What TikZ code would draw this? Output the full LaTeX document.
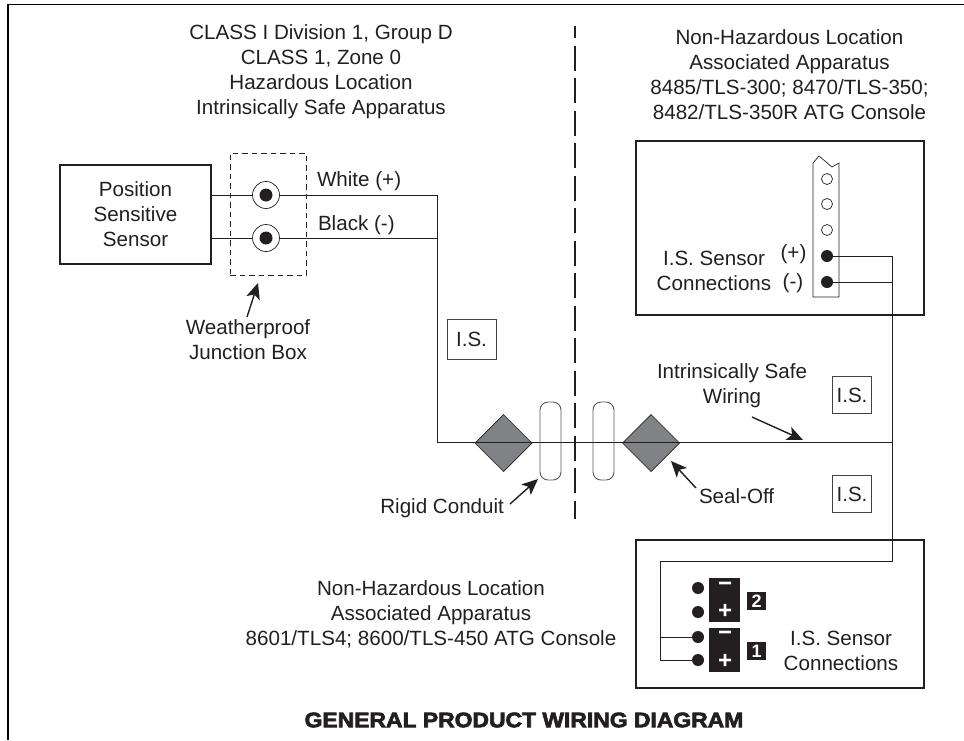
\documentclass[tikz,border=0pt]{standalone}
\usepackage{fontspec}
\setmainfont{Liberation Sans}
\newfontfamily\heavyfont[FakeBold=3.2,FakeStretch=1.09]{Liberation Sans Bold}
\usetikzlibrary{arrows.meta,shapes.geometric}
\definecolor{ink}{HTML}{231F20}
\definecolor{sealgray}{HTML}{808285}
\tikzset{
  x=1pt,y=-1pt,
  every node/.style={text=ink,font=\fontsize{20.6}{25}\selectfont,inner sep=0pt,outer sep=0pt},
  heavybox/.style={draw=ink,line width=1.5pt,fill=white},
  thinbox/.style={draw=ink!85,line width=0.9pt},
  wire/.style={draw=ink,line width=0.95pt},
  leader/.style={draw=ink,line width=1.4pt,-{Stealth[length=16pt,width=14pt,inset=4pt]}},
  seal/.style={draw=ink,line width=0.7pt,fill=sealgray},
  sleeve/.style={draw=ink!75,line width=0.9pt,rounded corners=8pt},
  dotb/.style={circle,fill=ink,minimum size=12pt},
  doto/.style={circle,draw=ink,line width=0.7pt,fill=white,minimum size=11pt},
  lab/.style={align=center},
  blk/.style={fill=ink,minimum width=31pt,anchor=north,minimum height=44pt},
  sign/.style={text=white,font=\fontsize{24}{24}\bfseries\selectfont},
  tag/.style={fill=ink,text=white,minimum width=19pt,minimum height=18pt,font=\fontsize{18}{18}\bfseries\selectfont}
}
\begin{document}
\begin{tikzpicture}
\useasboundingbox (0,0) rectangle (964,740);
\coordinate (fa) at (8,740);
\coordinate (fb) at (8,4.5);
\coordinate (fc) at (964,4.5);
\draw[draw=black,line width=1.1pt] (fa) -- (fb) -- (fc);
% headings
\node[lab] (h1) at (321,71.5) {CLASS I Division 1, Group D\\CLASS 1, Zone 0\\Hazardous Location\\Intrinsically Safe Apparatus};
\node[lab] (h2) at (789.5,74.5) {Non-Hazardous Location\\Associated Apparatus\\8485/TLS-300; 8470/TLS-350;\\8482/TLS-350R ATG Console};
\node[lab] (h3) at (431,614.5) {Non-Hazardous Location\\Associated Apparatus\\8601/TLS4; 8600/TLS-450 ATG Console};
% divider
\coordinate (dt) at (575,26);
\coordinate (db) at (575,519);
\draw[draw=ink,line width=1.1pt,dash pattern=on 25pt off 7.5pt,dash phase=13pt] (dt) -- (db);
% sensor
\node[heavybox,lab,minimum width=151pt,minimum height=99pt] (sensor) at (135.5,214.5) {Position\\Sensitive\\Sensor};
\node[draw=ink,line width=0.7pt,dash pattern=on 5.5pt off 4pt,minimum width=76pt,minimum height=122pt] (jbox) at (268,214) {};
\coordinate (wt) at (437,195);
\coordinate (bt) at (437,238);
\coordinate (corner) at (437,442);
\coordinate (iswireend) at (892,442);
% wires
\draw[wire] (sensor.east |- wt) -- (wt) -- (corner) -- (iswireend);
\draw[wire] (sensor.east |- bt) -- (bt);
% terminals
\node[circle,draw=ink,line width=0.7pt,fill=white,minimum size=27pt] (t1o) at (266,195) {};
\node[dotb,minimum size=13pt] (t1) at (266,195) {};
\node[circle,draw=ink,line width=0.7pt,fill=white,minimum size=27pt] (t2o) at (266,238) {};
\node[dotb,minimum size=13pt] (t2) at (266,238) {};
\node[anchor=west] (white) at (317,181) {White (+)};
\node[anchor=west] (black) at (318,225) {Black (-)};
\node[lab] (wjb) at (248,340) {Weatherproof\\Junction Box};
\coordinate (wjbs) at (247,317);
\coordinate (wjbe) at (258,283);
\draw[leader] (wjbs) -- (wjbe);
% IS boxes
\node[thinbox,minimum width=49pt,minimum height=40pt] (is1) at (471.5,339) {I.S.};
\node[thinbox,minimum width=39pt,minimum height=37pt] (is2) at (852,395) {I.S.};
\node[thinbox,minimum width=39pt,minimum height=37pt] (is3) at (852,494) {I.S.};
% seals
\node[seal,diamond,aspect=1,minimum size=57pt] (s1) at (503.5,443) {};
\node[seal,diamond,aspect=1,minimum size=57pt] (s2) at (651,443) {};
\draw[wire] (corner) -- (iswireend);
\draw[sleeve] (540,402) rectangle (561,480);
\draw[sleeve] (593,402) rectangle (614,480);
% leaders
\node[anchor=east] (rc) at (504,508) {Rigid Conduit};
\coordinate (rcs) at (510,504);
\coordinate (rce) at (538,479);
\draw[leader] (rcs) -- (rce);
\node[anchor=west] (so) at (699,496) {Seal-Off};
\coordinate (sos) at (696,488);
\coordinate (soe) at (671,461);
\draw[leader] (sos) -- (soe);
\node[lab] (isw) at (732,386) {Intrinsically Safe\\Wiring};
\coordinate (isws) at (752,417);
\coordinate (iswe) at (803,440);
\draw[leader] (isws) -- (iswe);
% upper console
\node[heavybox,minimum width=288pt,minimum height=174pt] (c1) at (780,228) {};
\draw[draw=ink,line width=0.7pt] (813,297) -- (813,163) -- (819,156) -- (832,167) -- (839,163) -- (839,297) -- cycle;
\node[doto] (p1) at (827,179) {};
\node[doto] (p2) at (827,204) {};
\node[doto] (p3) at (827,230) {};
\node[dotb] (p4) at (827,256) {};
\node[dotb] (p5) at (827,282) {};
\coordinate (bus1) at (892,256);
\coordinate (bus2) at (892,282);
\coordinate (c2top) at (892,561);
\coordinate (c2left) at (660,561);
\coordinate (c2bot) at (660,660);
\draw[wire] (p4.center) -- (bus1) -- (c2top);
\draw[wire] (p5.center) -- (bus2);
\node[lab] (c1l) at (714,270.5) {I.S. Sensor\\Connections};
\node (pl) at (793.5,254) {(+)};
\node (mi) at (793,283) {(-)};
% lower console
\node[heavybox,minimum width=288pt,minimum height=148pt] (c2) at (780,614) {};
\draw[wire] (bus2) -- (c2top) -- (c2left) -- (c2bot);
\node[dotb] (q1) at (698,588) {};
\node[dotb] (q2) at (698,612) {};
\node[dotb] (q3) at (698,637) {};
\node[dotb] (q4) at (698,660) {};
\draw[wire] (c2left |- q3) -- (q3.center);
\draw[wire] (c2bot) -- (q4.center);
\node[blk] (b2) at (724.5,578) {};
\node[blk] (b1) at (724.5,628) {};
\node[sign] (m2) at (725,587) {\textminus};
\node[sign] (p2t) at (725,611) {+};
\node[sign] (m1) at (725,636) {\textminus};
\node[sign] (p1t) at (725,661) {+};
\node[tag] (tag2) at (756.5,601) {2};
\node[tag] (tag1) at (756.5,651) {1};
\node[lab] (c2l) at (841,651) {I.S. Sensor\\Connections};
% title
\node[font=\fontsize{21}{24}\heavyfont] (title) at (524,720) {GENERAL PRODUCT WIRING DIAGRAM};
\end{tikzpicture}
\end{document}
